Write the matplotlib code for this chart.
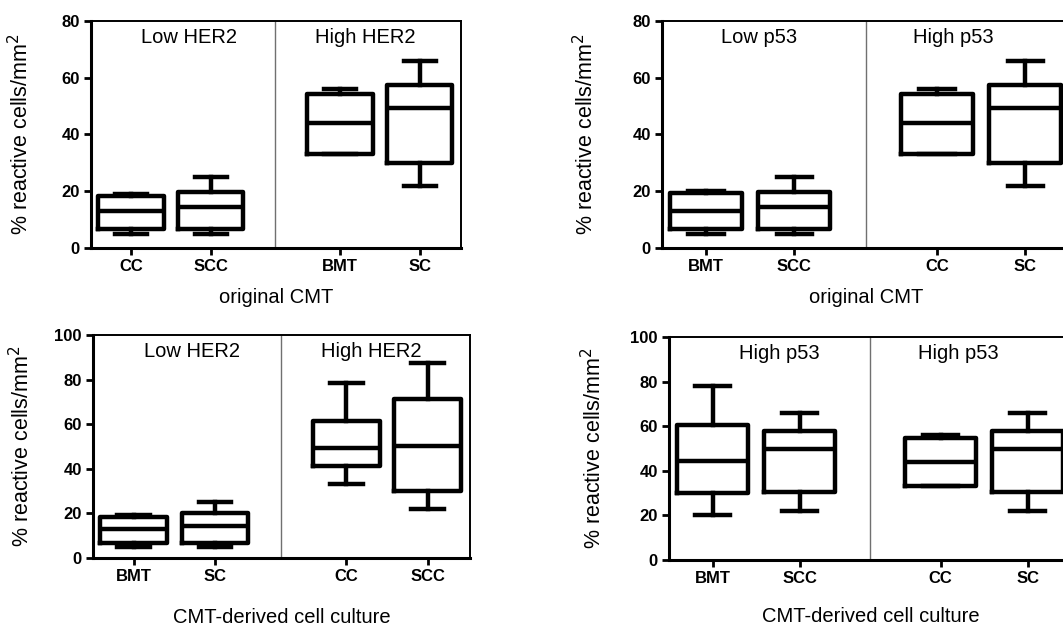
import matplotlib
matplotlib.use("Agg")
import matplotlib.pyplot as plt

plt.rcParams['font.family'] = ['Liberation Sans', 'DejaVu Sans']

# five-number summaries per box: [whisker low, q1, median, q3, whisker high]
her2_orig_labels = ["CC", "SCC", "BMT", "SC"]
her2_orig_stats = [[5, 6.7, 13, 18.2, 19],
                   [5, 6.7, 14.4, 19.6, 25],
                   [33, 33, 44, 54.4, 56],
                   [22, 30, 49.4, 57.6, 66]]

p53_orig_labels = ["BMT", "SCC", "CC", "SC"]
p53_orig_stats = [[5, 6.7, 13.2, 19.3, 20],
                  [5, 6.7, 14.4, 19.6, 25],
                  [33, 33, 44, 54.4, 56],
                  [22, 30, 49.4, 57.6, 66]]

her2_cult_labels = ["BMT", "SC", "CC", "SCC"]
her2_cult_stats = [[5, 6.7, 13, 18.4, 19.1],
                   [5, 6.7, 14.5, 20.1, 25],
                   [33, 41.3, 49.3, 61.6, 78.4],
                   [22, 30.1, 50, 71.3, 87.3]]

p53_cult_labels = ["BMT", "SCC", "CC", "SC"]
p53_cult_stats = [[20, 29.9, 44.5, 60.7, 78],
                  [22, 30.3, 49.6, 57.8, 66],
                  [33, 33, 44, 54.5, 56],
                  [22, 30.3, 49.6, 57.8, 66]]

xpos = [1, 2, 3.62, 4.62]


def draw_panel(ax, labels, stats, group_names, ymax, xlabel, text_x, xlab_y):
    bxp_stats = []
    for lab, s in zip(labels, stats):
        bxp_stats.append(dict(label=lab, whislo=s[0], q1=s[1], med=s[2],
                              q3=s[3], whishi=s[4]))
    lw = 3.2
    ax.bxp(bxp_stats, positions=xpos, widths=0.82, capwidths=0.4,
           showfliers=False,
           boxprops=dict(color='black', linewidth=lw),
           medianprops=dict(color='black', linewidth=lw),
           whiskerprops=dict(color='black', linewidth=lw),
           capprops=dict(color='black', linewidth=lw))
    ax.axvline(2.81, color='#707070', linewidth=1)
    ax.set_xlim(0.5, 5.14)
    ax.set_ylim(0, ymax)
    ax.set_yticks(range(0, ymax + 1, 20))
    ax.set_xticks(xpos)
    ax.set_xticklabels(labels)
    for lab in ax.get_xticklabels() + ax.get_yticklabels():
        lab.set_fontweight('bold')
        lab.set_fontsize(12)
    ax.tick_params(axis='both', direction='out', width=2, length=5, pad=3)
    ax.spines['left'].set_linewidth(2.2)
    ax.spines['bottom'].set_linewidth(2.2)
    ax.spines['top'].set_linewidth(1.4)
    ax.spines['right'].set_linewidth(1.4)
    ax.set_ylabel('% reactive cells/mm$^2$', fontsize=15.5)
    ax.yaxis.set_label_coords(-0.155, 0.5)
    ax.set_xlabel(xlabel, fontsize=14.5)
    ax.xaxis.set_label_coords(0.5, xlab_y)
    ytext = ymax * 0.925
    ax.text(text_x[0], ytext, group_names[0], fontsize=14.5, ha='center', va='center')
    ax.text(text_x[1], ytext, group_names[1], fontsize=14.5, ha='center', va='center')


fig = plt.figure(figsize=(10.63, 6.26), dpi=100)

ax1 = fig.add_axes([0.0856, 0.6038, 0.3481, 0.3627])
draw_panel(ax1, her2_orig_labels, her2_orig_stats, ["Low HER2", "High HER2"],
           80, 'original CMT', [1.73, 3.94], -0.175)

ax2 = fig.add_axes([0.6228, 0.6038, 0.3847, 0.3627])
draw_panel(ax2, p53_orig_labels, p53_orig_stats, ["Low p53", "High p53"],
           80, 'original CMT', [1.6, 3.8], -0.175)

ax3 = fig.add_axes([0.0875, 0.1086, 0.3546, 0.3563])
draw_panel(ax3, her2_cult_labels, her2_cult_stats, ["Low HER2", "High HER2"],
           100, 'CMT-derived cell culture', [1.72, 3.93], -0.225)

ax4 = fig.add_axes([0.6294, 0.1054, 0.3800, 0.3563])
draw_panel(ax4, p53_cult_labels, p53_cult_stats, ["High p53", "High p53"],
           100, 'CMT-derived cell culture', [1.77, 3.82], -0.21)

fig.savefig('out.png', dpi=100)
